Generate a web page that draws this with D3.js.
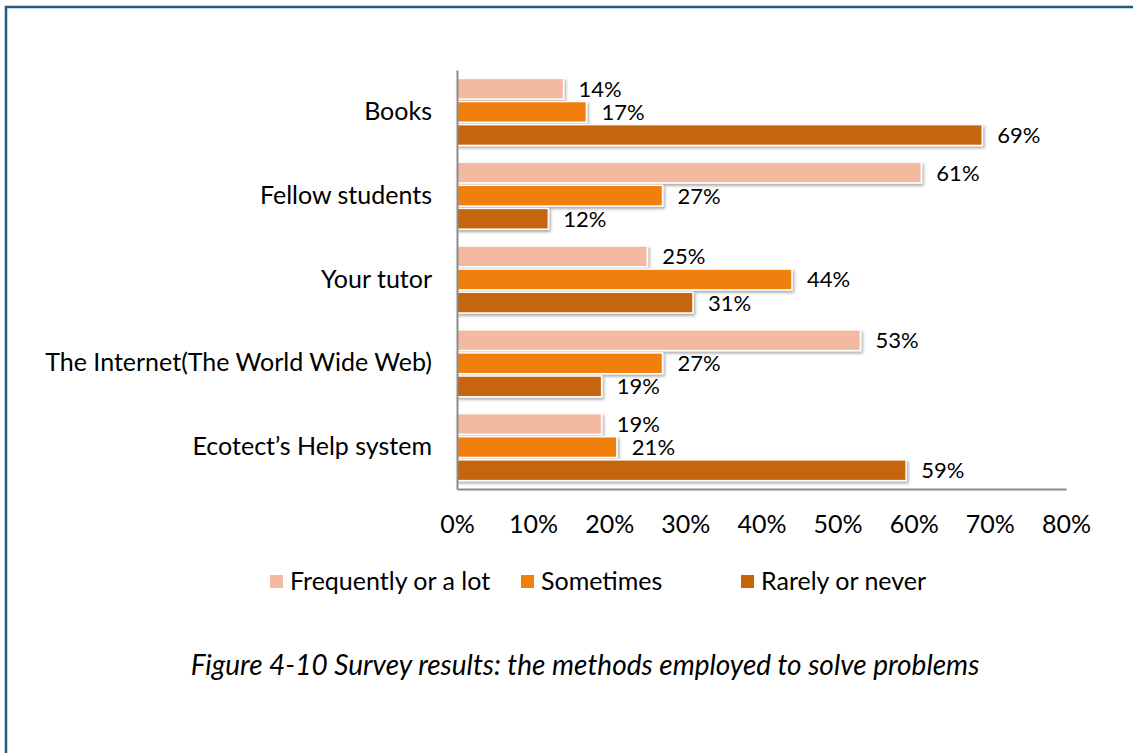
<!DOCTYPE html>
<html>
<head>
<meta charset="utf-8">
<script src="https://cdn.jsdelivr.net/npm/d3@7"></script>
<style>
  html, body { margin: 0; padding: 0; background: #fff; }
  svg { display: block; }
  text { font-family: Lato, "Open Sans", sans-serif; fill: #000; }
</style>
</head>
<body>
<svg id="chart" width="1133" height="753"></svg>
<script>
// Survey answers: share of respondents per source and frequency
const categories = ["Books", "Fellow students", "Your tutor", "The Internet(The World Wide Web)", "Ecotect\u2019s Help system"];
const seriesNames = ["Frequently or a lot", "Sometimes", "Rarely or never"];
const frequently = [14, 61, 25, 53, 19];
const sometimes  = [17, 27, 44, 27, 21];
const rarely     = [69, 12, 31, 19, 59];
const tickValues = [0, 10, 20, 30, 40, 50, 60, 70, 80];
const colors = ["#F4B9A1", "#F07F0C", "#C56507"];
const caption = "Figure 4-10 Survey results: the methods employed to solve problems";

const FONT = 25;
const seriesValues = [frequently, sometimes, rarely];
const svg = d3.select("#chart");

// page frame
svg.append("path")
  .attr("d", "M6,753 V7 H1133")
  .attr("fill", "none")
  .attr("stroke", "#1F5E82")
  .attr("stroke-width", 2.5);

const plot = { left: 457, right: 1066, top: 70, bottom: 489 };

const x = d3.scaleLinear().domain([0, 80]).range([plot.left, plot.right]);
const y = d3.scaleBand().domain(categories).range([plot.top, plot.bottom]).paddingInner(0.2).paddingOuter(0.1);
const ySub = d3.scaleBand().domain(seriesNames).range([0, y.bandwidth()]).paddingInner(0.1);

// soft shadow under each bar
const defs = svg.append("defs");
const f = defs.append("filter").attr("id", "shadow").attr("x", "-5%").attr("y", "-30%").attr("width", "115%").attr("height", "180%");
f.append("feDropShadow").attr("dx", 1.5).attr("dy", 2).attr("stdDeviation", 1.5).attr("flood-color", "#000").attr("flood-opacity", 0.35);

const rows = [];
categories.forEach((c, i) => {
  seriesNames.forEach((s, j) => rows.push({ cat: c, series: s, j, value: seriesValues[j][i] }));
});

const g = svg.append("g");
g.selectAll("rect.bar").data(rows).join("rect")
  .attr("class", "bar")
  .attr("x", x(0))
  .attr("y", d => y(d.cat) + ySub(d.series))
  .attr("width", d => x(d.value) - x(0))
  .attr("height", ySub.bandwidth())
  .attr("fill", d => colors[d.j])
  .attr("stroke", "#fff")
  .attr("stroke-width", 1.5)
  .attr("filter", "url(#shadow)");

g.selectAll("text.val").data(rows).join("text")
  .attr("class", "val")
  .attr("x", d => x(d.value) + 15)
  .attr("y", d => y(d.cat) + ySub(d.series) + ySub.bandwidth() / 2)
  .attr("dy", "0.36em")
  .attr("font-size", 22)
  .text(d => d.value + "%");

// axes
const xAxis = svg.append("g")
  .attr("transform", `translate(0,${plot.bottom})`)
  .call(d3.axisBottom(x).tickValues(tickValues).tickFormat(d => d + "%").tickSize(0).tickPadding(26));
xAxis.select(".domain").attr("stroke", "#8C8C8C").attr("stroke-width", 2);
xAxis.selectAll("text").attr("font-size", FONT).attr("font-family", "Lato, sans-serif").attr("fill", "#000");

const yAxis = svg.append("g")
  .attr("transform", `translate(${plot.left},0)`)
  .call(d3.axisLeft(y).tickSize(0).tickPadding(25));
yAxis.select(".domain").attr("stroke", "#8C8C8C").attr("stroke-width", 2);
yAxis.selectAll("text").attr("font-size", FONT).attr("font-family", "Lato, sans-serif").attr("fill", "#000");

// legend
const legendX = [270, 521, 741];
const legend = svg.append("g").attr("transform", "translate(0,581)");
seriesNames.forEach((s, j) => {
  legend.append("rect").attr("x", legendX[j]).attr("y", -6).attr("width", 13).attr("height", 13).attr("fill", colors[j]);
  legend.append("text").attr("x", legendX[j] + 20).attr("y", 0).attr("dy", "0.36em").attr("font-size", FONT).text(s);
});

// caption
svg.append("text")
  .attr("x", 585).attr("y", 665)
  .attr("text-anchor", "middle")
  .attr("dy", "0.36em")
  .attr("font-size", 28)
  .attr("font-style", "italic")
  .text(caption);
</script>
</body>
</html>
